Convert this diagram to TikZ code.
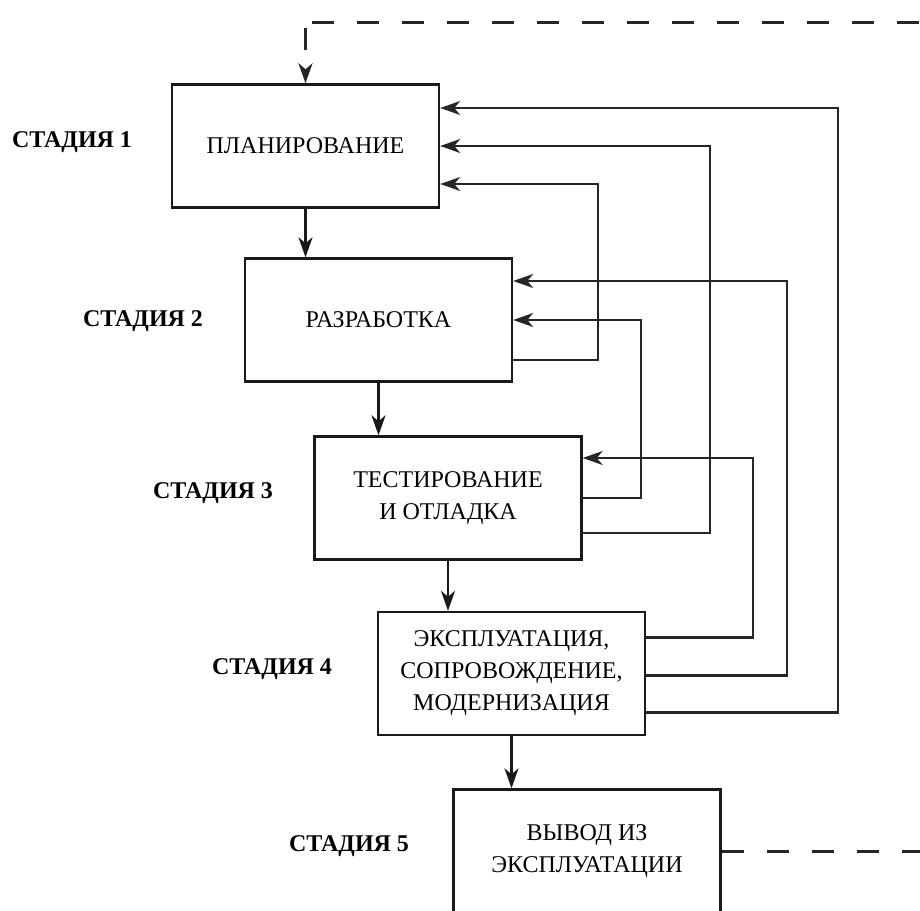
\documentclass[tikz,border=0pt]{standalone}
\usepackage{fontspec}
\setmainfont{Liberation Serif}
\usetikzlibrary{arrows.meta,calc}
\begin{document}
\begin{tikzpicture}[x=0.5pt,y=-0.5pt,
  stagebox/.style={rectangle, draw=black!90, line width=1.2pt, minimum width=133.5pt, minimum height=61.5pt, align=center, font=\fontsize{12}{16}\selectfont},
  stagelabel/.style={font=\fontsize{12}{14}\selectfont\bfseries},
  flow/.style={draw=black!90, line width=1.1pt, -{Stealth[length=10pt,width=7pt,inset=3pt]}},
  back/.style={draw=black!85, line width=1.1pt, -{Stealth[length=10pt,width=7pt,inset=3pt]}},
  retire/.style={draw=black!85, line width=1.5pt, dash pattern=on 11pt off 11.5pt}]
\useasboundingbox (0,0) rectangle (920,910);
\node [stagebox] (plan) at (305.5,146) {ПЛАНИРОВАНИЕ};
\node [stagebox] (dev) at (378.5,320) {РАЗРАБОТКА};
\node [stagebox] (test) at (448,498) {ТЕСТИРОВАНИЕ\\И ОТЛАДКА};
\node [stagebox] (oper) at (511.5,673.5) {ЭКСПЛУАТАЦИЯ,\\СОПРОВОЖДЕНИЕ,\\МОДЕРНИЗАЦИЯ};
\node [stagebox] (retire) at (587,851) {ВЫВОД ИЗ\\ЭКСПЛУАТАЦИИ};
\node [stagelabel] (st1) at (72,142) {СТАДИЯ 1};
\node [stagelabel] (st2) at (143,321) {СТАДИЯ 2};
\node [stagelabel] (st3) at (213,493) {СТАДИЯ 3};
\node [stagelabel] (st4) at (272,669) {СТАДИЯ 4};
\node [stagelabel] (st5) at (349,846) {СТАДИЯ 5};
\coordinate (topend) at (921,22);
\coordinate (topcorner) at (plan.north |- topend);
\coordinate (botend) at (921,851);
\draw [flow] (plan) -- (plan |- dev.north);
\draw [flow] (dev) -- (dev |- test.north);
\draw [flow] (test) -- (test |- oper.north);
\draw [flow] (oper) -- (oper |- retire.north);
\draw [back] ($(dev.east)+(0,40)$) -- ++(85,0) |- ($(plan.east)+(0,38)$);
\draw [back] (test.east) -- ++(58,0) |- (dev.east);
\draw [back] ($(test.east)+(0,35)$) -- ++(127,0) |- (plan.east);
\draw [back] ($(oper.east)+(0,-36)$) -- ++(107,0) |- ($(test.east)+(0,-40)$);
\draw [back] ($(oper.east)+(0,2)$) -- ++(141,0) |- ($(dev.east)+(0,-39)$);
\draw [back] ($(oper.east)+(0,39)$) -- ++(192,0) |- ($(plan.east)+(0,-38)$);
\draw [retire, dash phase=-3pt] (topcorner) -- (topend);
\draw [retire, dash phase=-3pt, -{Stealth[length=10pt,width=7pt,inset=3pt]}] (topcorner) -- (plan.north);
\draw [retire] (retire.east) -- (botend);
\end{tikzpicture}
\end{document}
